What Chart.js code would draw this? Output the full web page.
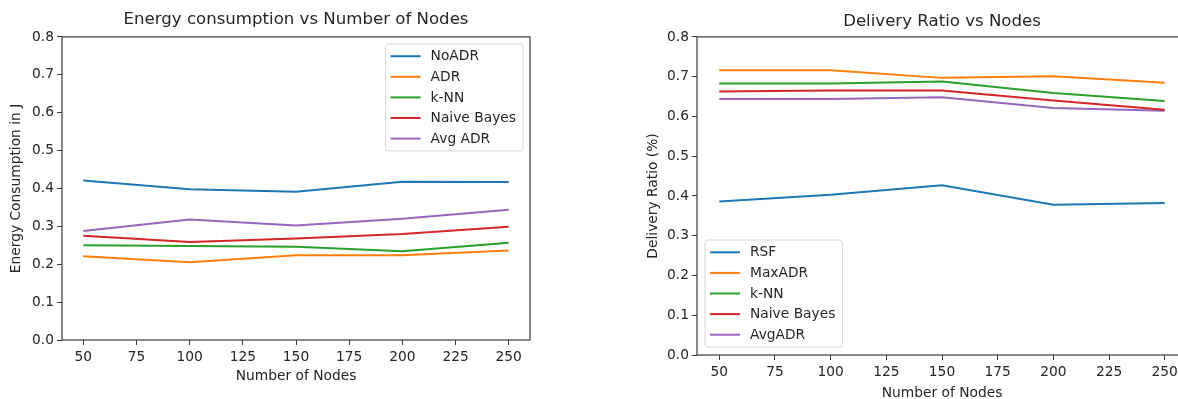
<!DOCTYPE html>
<html>
<head>
<meta charset="utf-8">
<script src="https://cdn.jsdelivr.net/npm/chart.js@4.4.1/dist/chart.umd.min.js"></script>
<style>
  html, body { margin: 0; padding: 0; background: #fff; overflow: hidden; }
  body { width: 1178px; height: 399px; position: relative; }
  #energyChart { position: absolute; left: 0; top: 0; }
  #deliveryChart { position: absolute; left: 640px; top: 0; }
</style>
</head>
<body>
<canvas id="energyChart" width="560" height="399"></canvas>
<canvas id="deliveryChart" width="560" height="420"></canvas>
<script>
// x values shared by both plots
const nodes = [50, 100, 150, 200, 250];
const xTicks = [50, 75, 100, 125, 150, 175, 200, 225, 250];
const yTicks = [0, 0.1, 0.2, 0.3, 0.4, 0.5, 0.6, 0.7, 0.8];

// energy consumption (J)
const energyLabels = ["NoADR", "ADR", "k-NN", "Naive Bayes", "Avg ADR"];
const energyNoADR = [0.421, 0.398, 0.391, 0.418, 0.417];
const energyADR = [0.221, 0.205, 0.224, 0.224, 0.236];
const energyKNN = [0.250, 0.248, 0.246, 0.234, 0.257];
const energyNB = [0.275, 0.259, 0.268, 0.280, 0.299];
const energyAvgADR = [0.288, 0.318, 0.302, 0.320, 0.344];

// delivery ratio
const deliveryLabels = ["RSF", "MaxADR", "k-NN", "Naive Bayes", "AvgADR"];
const deliveryRSF = [0.386, 0.403, 0.427, 0.378, 0.382];
const deliveryMaxADR = [0.716, 0.716, 0.697, 0.701, 0.685];
const deliveryKNN = [0.683, 0.683, 0.688, 0.659, 0.639];
const deliveryNB = [0.663, 0.665, 0.665, 0.640, 0.617];
const deliveryAvgADR = [0.644, 0.644, 0.648, 0.621, 0.614];

const colors = ["#1f77b4", "#ff7f0e", "#2ca02c", "#d62728", "#9467bd"];
const FONT = "'DejaVu Sans', sans-serif";
const TEXT = "#262626";
const SPINE = "#3a3a3a";

const toPoints = (vals) => nodes.map((n, i) => ({ x: n, y: vals[i] }));

function makeDatasets(labels, series) {
  return series.map((vals, i) => ({
    label: labels[i],
    data: toPoints(vals),
    borderColor: colors[i],
    backgroundColor: colors[i],
    borderWidth: 2,
    pointRadius: 0,
    tension: 0,
    fill: false,
  }));
}

// full box around the plot area (all four spines)
const framePlugin = {
  id: "frame",
  afterDatasetsDraw(chart) {
    const { ctx, chartArea: a } = chart;
    ctx.save();
    ctx.strokeStyle = SPINE;
    ctx.lineWidth = 1.2;
    ctx.strokeRect(a.left, a.top, a.right - a.left, a.bottom - a.top);
    ctx.restore();
  },
};

// boxed legend inside the plot area
const boxLegend = {
  id: "boxLegend",
  afterDraw(chart, args, opts) {
    const { ctx, chartArea: a } = chart;
    const sets = chart.data.datasets;
    const rowH = 20.6, lineLen = 30, padX = 5, gap = 10;
    ctx.save();
    ctx.font = "13.8px " + FONT;
    const textW = Math.max(...sets.map((d) => ctx.measureText(d.label).width));
    const w = padX + lineLen + gap + textW + 7;
    const h = rowH * sets.length + 4;
    const x = opts.corner === "topright" ? a.right - opts.inset - w : a.left + opts.inset;
    const y = opts.corner === "topright" ? a.top + opts.inset : a.bottom - opts.inset - h;

    ctx.beginPath();
    ctx.roundRect(x, y, w, h, 3);
    ctx.fillStyle = "rgba(255,255,255,0.8)";
    ctx.fill();
    ctx.strokeStyle = "#d6d6d6";
    ctx.lineWidth = 1;
    ctx.stroke();

    sets.forEach((d, i) => {
      const cy = y + 2 + rowH * (i + 0.5);
      ctx.strokeStyle = d.borderColor;
      ctx.lineWidth = 2;
      ctx.beginPath();
      ctx.moveTo(x + padX, cy);
      ctx.lineTo(x + padX + lineLen, cy);
      ctx.stroke();
      ctx.fillStyle = TEXT;
      ctx.textBaseline = "middle";
      ctx.fillText(d.label, x + padX + lineLen + gap, cy + 0.5);
    });
    ctx.restore();
  },
};

function makeChart(id, cfg) {
  return new Chart(document.getElementById(id), {
    type: "line",
    data: { datasets: makeDatasets(cfg.labels, cfg.series) },
    plugins: [framePlugin, boxLegend],
    options: {
      responsive: false,
      animation: false,
      devicePixelRatio: 1,
      layout: { padding: cfg.padding },
      plugins: {
        legend: { display: false },
        tooltip: { enabled: false },
        title: {
          display: true,
          fullSize: false,
          text: cfg.title,
          color: TEXT,
          font: { family: FONT, size: 16.6, weight: "normal" },
          padding: cfg.titlePad,
        },
        boxLegend: cfg.legend,
      },
      scales: {
        x: {
          type: "linear",
          min: 40,
          max: 260,
          afterBuildTicks: (s) => { s.ticks = xTicks.map((v) => ({ value: v })); },
          afterFit: (s) => { s.height = cfg.xHeight; },
          border: { display: false },
          grid: { drawOnChartArea: false, drawTicks: true, tickLength: 5, color: SPINE },
          ticks: { color: TEXT, font: { family: FONT, size: 13.8 }, padding: 4, maxRotation: 0 },
          title: {
            display: true,
            text: "Number of Nodes",
            color: TEXT,
            font: { family: FONT, size: 13.8 },
            padding: { top: 0, bottom: 2 },
          },
        },
        y: {
          type: "linear",
          min: 0,
          max: 0.8,
          afterBuildTicks: (s) => { s.ticks = yTicks.map((v) => ({ value: v })); },
          afterFit: (s) => { s.width = cfg.yWidth; },
          border: { display: false },
          grid: { drawOnChartArea: false, drawTicks: true, tickLength: 5, color: SPINE },
          ticks: {
            color: TEXT,
            font: { family: FONT, size: 13.8 },
            padding: 3,
            callback: (v) => Number(v).toFixed(1),
          },
          title: {
            display: true,
            text: cfg.yTitle,
            color: TEXT,
            font: { family: FONT, size: 13.8 },
            padding: { top: cfg.yTitlePad, bottom: 0 },
          },
        },
      },
    },
  });
}

makeChart("energyChart", {
  title: "Energy consumption vs Number of Nodes",
  yTitle: "Energy Consumption in J",
  labels: energyLabels,
  series: [energyNoADR, energyADR, energyKNN, energyNB, energyAvgADR],
  padding: { top: 0, left: 0, right: 30, bottom: 12 },
  titlePad: { top: 10, bottom: 7 },
  xHeight: 47,
  yWidth: 62,
  yTitlePad: 8,
  legend: { corner: "topright", inset: 7 },
});

makeChart("deliveryChart", {
  title: "Delivery Ratio vs Nodes",
  yTitle: "Delivery Ratio (%)",
  labels: deliveryLabels,
  series: [deliveryRSF, deliveryMaxADR, deliveryKNN, deliveryNB, deliveryAvgADR],
  padding: { top: 0, left: 0, right: 13, bottom: 16 },
  titlePad: { top: 12, bottom: 5 },
  xHeight: 49,
  yWidth: 57,
  yTitlePad: 5,
  legend: { corner: "bottomleft", inset: 8 },
});
</script>
</body>
</html>
